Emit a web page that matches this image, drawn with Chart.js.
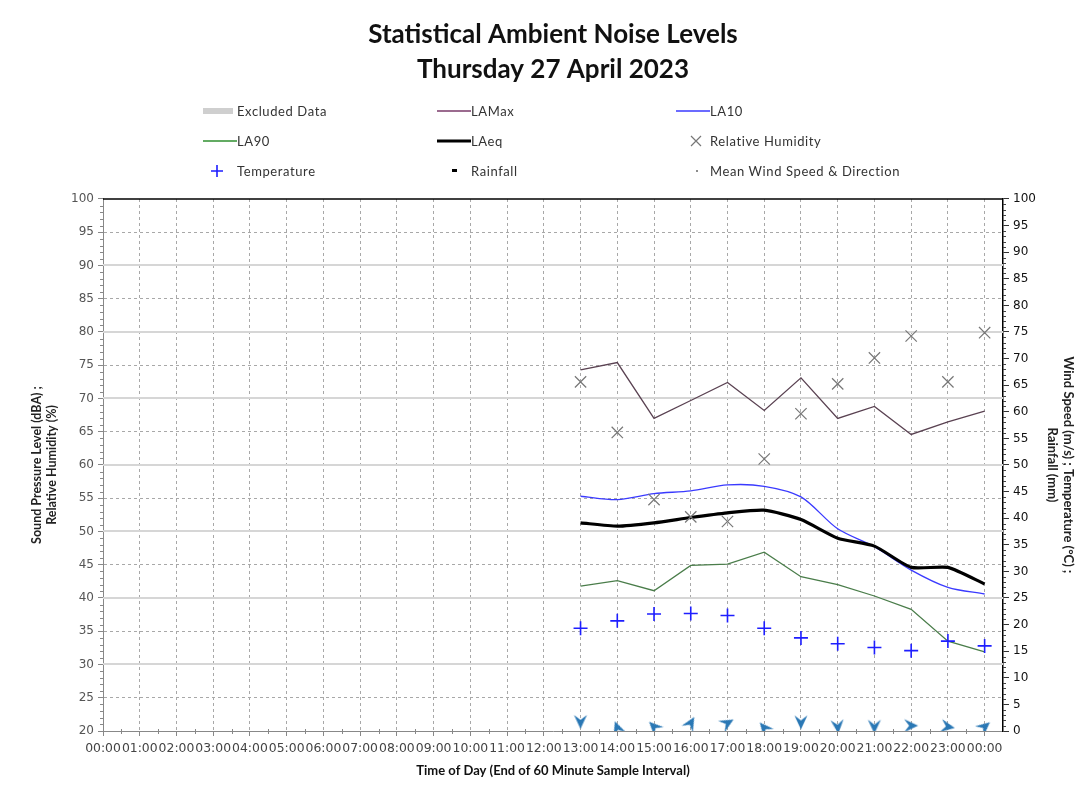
<!DOCTYPE html>
<html>
<head>
<meta charset="utf-8">
<title>Statistical Ambient Noise Levels</title>
<script src="https://cdn.jsdelivr.net/npm/chart.js@4.4.0/dist/chart.umd.min.js"></script>
<style>
  html, body { margin: 0; padding: 0; background: #fff; }
  #wrap { position: relative; width: 1088px; height: 794px; }
  #legenda { position: absolute; left: 0; top: 0; font-family: Lato, sans-serif; font-size: 13px; letter-spacing: 0.6px; color: #333; }
  .lg-item { position: absolute; display: flex; align-items: center; height: 20px; white-space: nowrap; }
  .lg-item svg { width: 34px; height: 14px; flex: none; }
</style>
</head>
<body>
<div id="wrap">
  <canvas id="grafico" width="1088" height="794"></canvas>
  <div id="legenda"></div>
</div>
<script>
(() => {
  // horas (fim do intervalo de 60 min), 24 = 00:00 do dia seguinte
  const HORAS = [13, 14, 15, 16, 17, 18, 19, 20, 21, 22, 23, 24];

  const LAMAX = [74.3, 75.4, 67.0, 69.7, 72.4, 68.2, 73.1, 67.0, 68.8, 64.6, 66.5, 68.1];
  const LA10  = [55.3, 54.8, 55.7, 56.1, 57.0, 56.8, 55.2, 50.4, 47.7, 44.2, 41.6, 40.6];
  const LAEQ  = [51.3, 50.8, 51.3, 52.1, 52.8, 53.2, 51.8, 49.0, 47.8, 44.6, 44.6, 42.1];
  const LA90  = [41.8, 42.6, 41.1, 44.9, 45.1, 46.9, 43.2, 42.0, 40.3, 38.3, 33.5, 31.9];
  const UMIDADE = [72.5, 64.9, 54.8, 52.2, 51.5, 60.9, 67.7, 72.2, 76.1, 79.4, 72.5, 79.9];
  const TEMPERATURA = [19.3, 20.7, 22.0, 22.1, 21.7, 19.3, 17.5, 16.4, 15.7, 15.1, 16.9, 16.0];
  const CHUVA = [];  // sem chuva registrada
  const VENTO_VEL = [1.7, 0.6, 0.8, 1.5, 1.5, 0.6, 1.6, 0.8, 0.8, 1.0, 0.8, 0.8];
  const VENTO_DIR = [180, 340, 315, 30, 60, 320, 180, 175, 180, 90, 100, 50];

  const Y_TICKS_ESQ = { min: 20, max: 100, passo: 5 };
  const Y_TICKS_DIR = { min: 0, max: 100, passo: 5 };

  const COR = {
    excluido: '#cfcfcf',
    lamax: '#5a4252',
    la10: '#3a3aff',
    la90: '#4a7d4a',
    laeq: '#000000',
    umidade: '#777777',
    temp: '#1e1eff',
    chuva: '#000000',
    vento: '#2a78b5'
  };

  const pts = arr => HORAS.map((h, i) => (arr[i] == null ? null : { x: h, y: arr[i] })).filter(Boolean);
  const hora = v => String(v % 24).padStart(2, '0') + ':00';

  // seta (ponta para cima) usada como pointStyle do vento; a rotacao vem de VENTO_DIR
  function criarSeta() {
    const c = document.createElement('canvas');
    c.width = 16; c.height = 16;
    const g = c.getContext('2d');
    g.beginPath();
    g.moveTo(8, 1); g.lineTo(14.5, 15); g.lineTo(8, 10); g.lineTo(1.5, 15); g.closePath();
    g.fillStyle = COR.vento;
    g.fill();
    return c;
  }

  // linhas de grade solidas (multiplos de 10), borda superior e ticks menores
  const extras = {
    id: 'extras',
    beforeDatasetsDraw(chart) {
      const { ctx, chartArea: a, scales: { y } } = chart;
      ctx.save();
      ctx.strokeStyle = '#d6d6d6';
      ctx.lineWidth = 2;
      for (let v = 30; v < 100; v += 10) {
        const py = Math.round(y.getPixelForValue(v));
        ctx.beginPath(); ctx.moveTo(a.left, py); ctx.lineTo(a.right, py); ctx.stroke();
      }
      ctx.restore();
    },
    afterDraw(chart) {
      const { ctx, chartArea: a, scales: { x, y, y2 } } = chart;
      ctx.save();
      ctx.strokeStyle = '#000';
      ctx.lineWidth = 1.5;
      ctx.beginPath(); ctx.moveTo(a.left, a.top); ctx.lineTo(a.right, a.top); ctx.stroke();
      ctx.lineWidth = 1;
      ctx.strokeStyle = '#888';
      for (let v = 21; v < 100; v++) {
        if (v % 5 === 0) continue;
        const py = Math.round(y.getPixelForValue(v)) + 0.5;
        ctx.beginPath(); ctx.moveTo(a.left - 3, py); ctx.lineTo(a.left, py); ctx.stroke();
      }
      ctx.strokeStyle = '#444';
      for (let v = 1; v < 100; v++) {
        if (v % 5 === 0) continue;
        const py = Math.round(y2.getPixelForValue(v)) + 0.5;
        ctx.beginPath(); ctx.moveTo(a.right, py); ctx.lineTo(a.right + 3, py); ctx.stroke();
      }
      ctx.strokeStyle = '#888';
      for (let v = 0.5; v < 24.5; v += 1) {
        const px = Math.round(x.getPixelForValue(v)) + 0.5;
        ctx.beginPath(); ctx.moveTo(px, a.bottom - 2); ctx.lineTo(px, a.bottom + 3); ctx.stroke();
      }
      ctx.restore();
    }
  };

  const fonteTick = { family: 'DejaVu Sans', size: 12 };

  new Chart(document.getElementById('grafico'), {
    type: 'line',
    data: {
      datasets: [
        { label: 'Mean Wind Speed & Direction', data: pts(VENTO_VEL), yAxisID: 'y2', showLine: false,
          pointStyle: criarSeta(), pointRadius: 7, pointRotation: VENTO_DIR },
        { label: 'Rainfall', data: pts(CHUVA), yAxisID: 'y2', showLine: false,
          pointStyle: 'line', pointRadius: 3, pointBorderColor: COR.chuva, pointBorderWidth: 3 },
        { label: 'Temperature', data: pts(TEMPERATURA), yAxisID: 'y2', showLine: false,
          pointStyle: 'cross', pointRadius: 7, pointBorderColor: COR.temp, pointBorderWidth: 1.6 },
        { label: 'Relative Humidity', data: pts(UMIDADE), yAxisID: 'y', showLine: false,
          pointStyle: 'crossRot', pointRadius: 8, pointBorderColor: COR.umidade, pointBorderWidth: 1.2 },
        { label: 'LAeq', data: pts(LAEQ), yAxisID: 'y', borderColor: COR.laeq, borderWidth: 3.2,
          pointRadius: 0, tension: 0.2 },
        { label: 'LA10', data: pts(LA10), yAxisID: 'y', borderColor: COR.la10, borderWidth: 1.3,
          pointRadius: 0, tension: 0.3 },
        { label: 'LA90', data: pts(LA90), yAxisID: 'y', borderColor: COR.la90, borderWidth: 1.3,
          pointRadius: 0, tension: 0 },
        { label: 'LAMax', data: pts(LAMAX), yAxisID: 'y', borderColor: COR.lamax, borderWidth: 1.3,
          pointRadius: 0, tension: 0 }
      ]
    },
    options: {
      responsive: false,
      animation: false,
      layout: { padding: 0 },
      plugins: {
        legend: { display: false },
        tooltip: { enabled: false },
        title: {
          display: true,
          fullSize: false,
          text: ['Statistical Ambient Noise Levels', 'Thursday 27 April 2023'],
          color: '#111',
          font: { family: 'Lato', size: 26, weight: 'bold', lineHeight: 1.346 },
          padding: { top: 17, bottom: 112 }
        }
      },
      scales: {
        x: {
          type: 'linear', min: 0, max: 24.5,
          afterBuildTicks: s => { s.ticks = s.ticks.filter(t => Number.isInteger(t.value)); },
          afterFit: s => { s.height = 63; },
          ticks: { stepSize: 1, includeBounds: false, autoSkip: false, maxRotation: 0, color: '#444',
                   font: { family: 'DejaVu Sans', size: 12.4 }, padding: 5, callback: v => hora(v) },
          grid: { color: '#a8a8a8', tickColor: '#888', tickLength: 5, borderDash: [3, 3] },
          border: { color: '#888', dash: [3, 3] },
          title: { display: true, text: 'Time of Day (End of 60 Minute Sample Interval)', color: '#111',
                   font: { family: 'Lato', size: 13, weight: 'bold' }, padding: { top: 6, bottom: 15 } }
        },
        y: {
          position: 'left', min: Y_TICKS_ESQ.min, max: Y_TICKS_ESQ.max,
          afterFit: s => { s.width = 103; },
          ticks: { stepSize: Y_TICKS_ESQ.passo, color: '#555', font: fonteTick, padding: 4 },
          grid: {
            color: c => (c.tick.value % 10 === 0 ? 'rgba(0,0,0,0)' : '#a8a8a8'),
            tickColor: '#888', tickLength: 5, borderDash: [3, 3]
          },
          border: { color: '#888', dash: [3, 3] },
          title: { display: true, text: ['Sound Pressure Level (dBA) ;', 'Relative Humidity (%)'],
                   color: '#222', font: { family: 'Lato', size: 12.5, weight: 'bold' }, padding: { top: 29.5, bottom: 0 } }
        },
        y2: {
          position: 'right', min: Y_TICKS_DIR.min, max: Y_TICKS_DIR.max,
          afterFit: s => { s.width = 85; },
          ticks: { stepSize: Y_TICKS_DIR.passo, color: '#111', font: fonteTick, padding: 4 },
          grid: { drawOnChartArea: false, tickColor: '#333', tickLength: 6 },
          border: { color: '#000', width: 1.5 },
          title: { display: true, text: ['Wind Speed (m/s) ; Temperature (°C) ;', 'Rainfall (mm)'],
                   color: '#222', font: { family: 'Lato', size: 13, weight: 'bold' }, padding: { top: 12, bottom: 0 } }
        }
      }
    },
    plugins: [extras]
  });

  // legenda em grade 3x3, como no relatorio original
  const LEGENDA = [
    { label: 'Excluded Data', tipo: 'faixa', cor: COR.excluido },
    { label: 'LAMax', tipo: 'linha', cor: '#7a3a6a', w: 1.3 },
    { label: 'LA10', tipo: 'linha', cor: COR.la10, w: 1.3 },
    { label: 'LA90', tipo: 'linha', cor: '#2f8f2f', w: 1.3 },
    { label: 'LAeq', tipo: 'linha', cor: COR.laeq, w: 3 },
    { label: 'Relative Humidity', tipo: 'xis', cor: COR.umidade },
    { label: 'Temperature', tipo: 'mais', cor: COR.temp },
    { label: 'Rainfall', tipo: 'traco', cor: COR.chuva },
    { label: 'Mean Wind Speed & Direction', tipo: 'ponto', cor: '#666' }
  ];
  const COLUNAS = [203, 437, 676];
  const LINHAS = [101, 131, 161];

  function marcador({ tipo, cor, w }) {
    const svg = {
      faixa: `<rect x="0" y="4" width="30" height="6" fill="${cor}"/>`,
      linha: `<line x1="0" y1="7" x2="34" y2="7" stroke="${cor}" stroke-width="${w}"/>`,
      xis: `<path d="M15 2 L25 12 M25 2 L15 12" stroke="${cor}" stroke-width="1.2"/>`,
      mais: `<path d="M14 1 V13 M8 7 H20" stroke="${cor}" stroke-width="1.6"/>`,
      traco: `<rect x="15" y="5" width="5" height="3" fill="${cor}"/>`,
      ponto: `<circle cx="21" cy="7" r="1" fill="${cor}"/>`
    }[tipo];
    return `<svg viewBox="0 0 34 14">${svg}</svg>`;
  }

  document.getElementById('legenda').innerHTML = LEGENDA.map((item, i) => {
    const x = COLUNAS[i % 3];
    const y = LINHAS[Math.floor(i / 3)];
    return `<div class="lg-item" style="left:${x}px;top:${y}px">${marcador(item)}<span>${item.label}</span></div>`;
  }).join('');
})();
</script>
</body>
</html>
